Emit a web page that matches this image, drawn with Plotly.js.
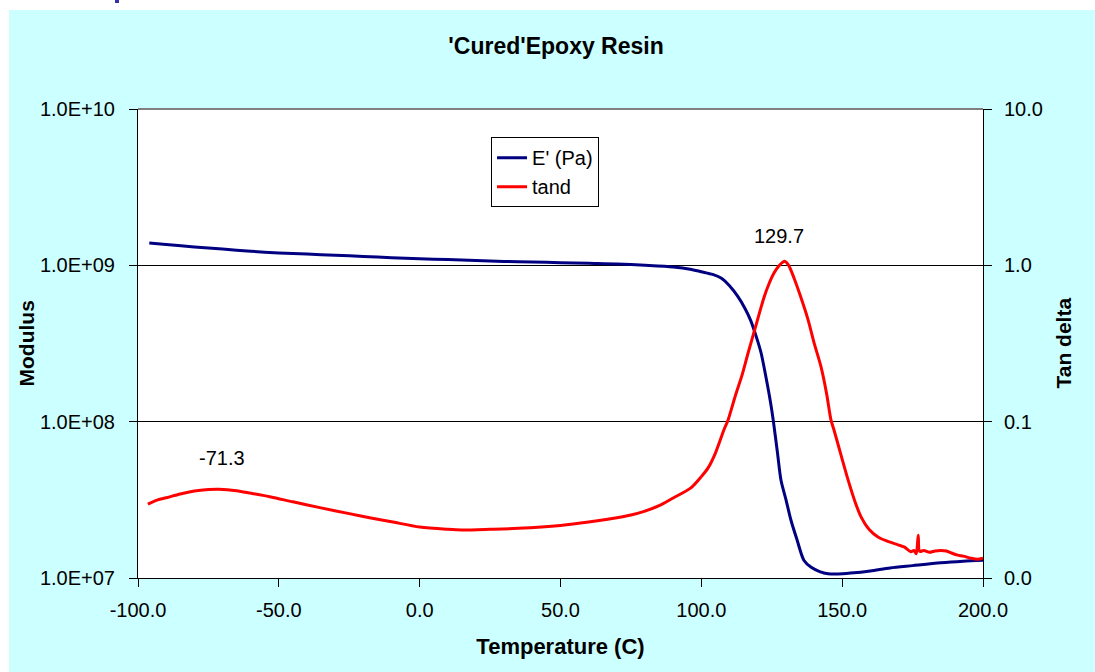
<!DOCTYPE html>
<html>
<head>
<meta charset="utf-8">
<script src="https://cdn.plot.ly/plotly-3.0.1.min.js"></script>
<style>
  html, body { margin: 0; padding: 0; background: #ffffff; width: 1095px; height: 672px; overflow: hidden; }
  #frag { position: absolute; left: 115px; top: 0px; width: 4px; height: 3px; background: #3333aa; }
  #chart { position: absolute; left: 9px; top: 10px; width: 1086px; height: 662px; }
</style>
</head>
<body>
<div id="frag"></div>
<div id="chart"></div>
<script>
// ---- Data ----
const tempModulus = [-96, -90, -80, -70, -60, -50, -40, -30, -20, -10, 0, 10, 20, 30, 40, 50, 60, 70, 80, 90, 96, 100, 104, 107, 110, 113, 115.5, 117.5, 119.5, 121.2, 123, 124.5, 125.5, 127, 128.3, 130, 131.8, 134, 136.4, 139, 142, 145, 148.5, 153, 160, 167, 175, 185, 193, 200];
const modulusPa = [1.39e9, 1.36e9, 1.31e9, 1.27e9, 1.23e9, 1.20e9, 1.18e9, 1.16e9, 1.14e9, 1.12e9, 1.10e9, 1.09e9, 1.075e9, 1.06e9, 1.05e9, 1.04e9, 1.03e9, 1.02e9, 1.0e9, 9.75e8, 9.45e8, 9.1e8, 8.75e8, 8.3e8, 7.4e8, 6.3e8, 5.3e8, 4.45e8, 3.5e8, 2.76e8, 1.9e8, 1.35e8, 1.03e8, 6.4e7, 4.2e7, 3.2e7, 2.35e7, 1.75e7, 1.3e7, 1.17e7, 1.1e7, 1.065e7, 1.06e7, 1.075e7, 1.11e7, 1.16e7, 1.2e7, 1.25e7, 1.28e7, 1.3e7];

const tempTan = [-96.5, -93, -90, -85, -80, -75, -71.3, -65, -60, -52.8, -45, -35, -25, -17.3, -10, 0, 10, 15, 25, 35, 50, 60, 70, 75, 80, 85, 90, 96.3, 100, 102.4, 105, 108, 109.5, 112, 114.5, 116.6, 119, 122.3, 124, 125.8, 127.5, 129, 129.7, 131, 132.9, 135, 137.9, 140, 142.5, 144.5, 146, 147.1, 149.5, 152.1, 154.5, 156.7, 159.5, 162.7, 166, 169.8, 172, 174.4, 175.5, 176.3, 177, 177.5, 179, 181, 183, 185, 187, 189, 191, 193, 195.7, 198, 200];
const tanDelta = [0.0297, 0.0316, 0.0326, 0.0345, 0.036, 0.0368, 0.037, 0.0362, 0.0349, 0.033, 0.0307, 0.0281, 0.0258, 0.0242, 0.0229, 0.0212, 0.0205, 0.0203, 0.0205, 0.0208, 0.0217, 0.0228, 0.0243, 0.0253, 0.0268, 0.029, 0.0325, 0.0377, 0.0445, 0.0506, 0.063, 0.0885, 0.1026, 0.145, 0.2, 0.275, 0.39, 0.628, 0.76, 0.893, 0.99, 1.05, 1.06, 1.0, 0.83, 0.65, 0.448, 0.32, 0.224, 0.15, 0.103, 0.0885, 0.062, 0.0424, 0.031, 0.0246, 0.0205, 0.0183, 0.0172, 0.0163, 0.0158, 0.0147, 0.0150, 0.0143, 0.0188, 0.0148, 0.0150, 0.0146, 0.0149, 0.0150, 0.0149, 0.0144, 0.0140, 0.0138, 0.0134, 0.0132, 0.0134];

const xTickVals = [-100, -50, 0, 50, 100, 150, 200];
const xTickText = ["-100.0", "-50.0", "0.0", "50.0", "100.0", "150.0", "200.0"];
const modTickVals = [1e7, 1e8, 1e9, 1e10];
const modTickText = ["1.0E+07", "1.0E+08", "1.0E+09", "1.0E+10"];
const tanTickVals = [0.01, 0.1, 1, 10];
const tanTickText = ["0.0", "0.1", "1.0", "10.0"];

const peakLabels = [{x: 129.7, y: 1.06, text: "129.7", dx: -6, dy: 25}, {x: -71.3, y: 0.037, text: "-71.3", dx: 3, dy: 31}];

const FONT = "Liberation Sans, Arial, sans-serif";

const traces = [
  {x: tempModulus, y: modulusPa, name: "E' (Pa)", type: "scatter", mode: "lines",
   line: {color: "#000080", width: 3, shape: "spline", smoothing: 0.8}, yaxis: "y"},
  {x: tempTan, y: tanDelta, name: "tand", type: "scatter", mode: "lines",
   line: {color: "#ff0000", width: 3, shape: "spline", smoothing: 0.8}, yaxis: "y2"}
];

const layout = {
  width: 1086, height: 662,
  margin: {l: 129, r: 112, t: 99, b: 94},
  paper_bgcolor: "#ccffff",
  plot_bgcolor: "#ffffff",
  font: {family: FONT, size: 20, color: "#000000"},
  title: {text: "<b>'Cured'Epoxy Resin</b>", x: 0.5037, xanchor: "center", y: 0.9456, yanchor: "middle",
          font: {family: FONT, size: 23, color: "#000000"}},
  showlegend: true,
  legend: {x: 0.4178, y: 0.94, xanchor: "left", yanchor: "top", bgcolor: "#ffffff",
           bordercolor: "#000000", borderwidth: 1, font: {family: FONT, size: 20},
           tracegroupgap: 0, itemwidth: 30},
  xaxis: {range: [-100, 200], tickmode: "array", tickvals: xTickVals, ticktext: xTickText,
          showline: true, linecolor: "#000000", linewidth: 1, ticks: "outside", ticklen: 8,
          tickcolor: "#000000", showgrid: false, zeroline: false, ticklabelstandoff: 6,
          title: {text: "<b>Temperature (C)</b>", font: {family: FONT, size: 22}, standoff: 18},
          fixedrange: true},
  yaxis: {type: "log", range: [7, 10], tickmode: "array", tickvals: modTickVals, ticktext: modTickText,
          showline: true, linecolor: "#000000", linewidth: 1, ticks: "outside", ticklen: 8,
          tickcolor: "#000000", showgrid: true, gridcolor: "#000000", gridwidth: 1, zeroline: false,
          ticklabelstandoff: 10},
  yaxis2: {type: "log", range: [-2, 1], overlaying: "y", side: "right", tickmode: "array",
           tickvals: tanTickVals, ticktext: tanTickText, showline: true, linecolor: "#000000",
           linewidth: 1, ticks: "outside", ticklen: 8, tickcolor: "#000000", showgrid: false,
           zeroline: false, ticklabelstandoff: 8},
  shapes: [
    {type: "line", xref: "paper", yref: "paper", x0: 0, x1: 1, y0: 1, y1: 1,
     line: {color: "#808080", width: 2}}
  ],
  annotations: peakLabels.map(p => ({x: p.x, y: Math.log10(p.y), xref: "x", yref: "y2", text: p.text,
     showarrow: false, xshift: p.dx, yshift: p.dy, font: {family: FONT, size: 20, color: "#000000"}}))
    .concat([
      {xref: "paper", yref: "paper", x: -0.1314, y: 0.5, text: "<b>Modulus</b>", textangle: -90,
       showarrow: false, xanchor: "center", yanchor: "middle", font: {family: FONT, size: 21}},
      {xref: "paper", yref: "paper", x: 1.0947, y: 0.5, text: "<b>Tan delta</b>", textangle: -90,
       showarrow: false, xanchor: "center", yanchor: "middle", font: {family: FONT, size: 21}}
    ])
};

Plotly.newPlot("chart", traces, layout, {displayModeBar: false, staticPlot: true});
</script>
</body>
</html>
